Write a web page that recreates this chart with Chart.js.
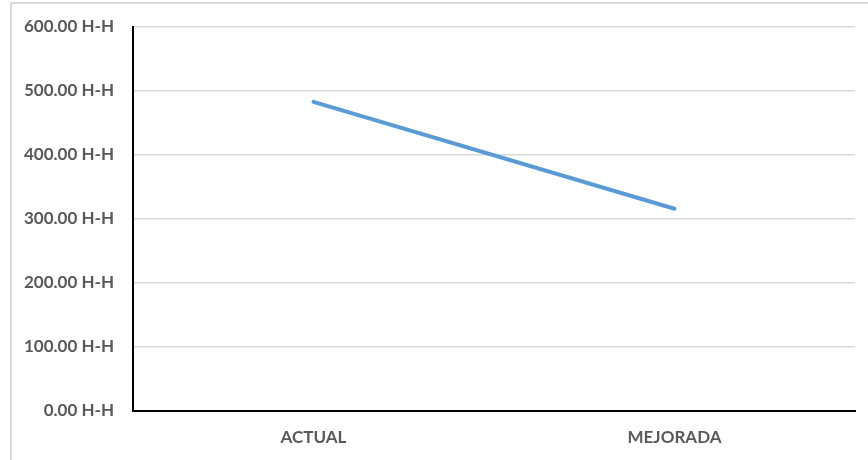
<!DOCTYPE html>
<html>
<head>
<meta charset="utf-8">
<script src="https://cdn.jsdelivr.net/npm/chart.js@4/dist/chart.umd.min.js"></script>
<style>
  html, body { margin: 0; padding: 0; background: #fff; }
  #wrap { position: relative; width: 868px; height: 460px; }
</style>
</head>
<body>
<div id="wrap"><canvas id="hh-chart" width="868" height="460"></canvas></div>
<script>
const categories = ['ACTUAL', 'MEJORADA'];
const horasHombre = [483, 316];
const yTicks = [0, 100, 200, 300, 400, 500, 600];

const labelFont = { family: 'Lato', size: 17, weight: 'bold' };

// light gray frame around the chart
const frame = {
    id: 'frame',
    beforeDraw(chart) {
        const c = chart.ctx;
        c.save();
        c.strokeStyle = '#d9d9d9';
        c.lineWidth = 2;
        c.strokeRect(11, 3, 870, 470);
        c.restore();
    }
};

const ctx = document.getElementById('hh-chart');
new Chart(ctx, {
    type: 'line',
    data: {
        labels: categories,
        datasets: [{
            data: horasHombre,
            borderColor: '#5b9bd5',
            borderWidth: 4,
            borderCapStyle: 'round',
            pointRadius: 0,
            tension: 0
        }]
    },
    options: {
        responsive: false,
        animation: false,
        layout: { padding: { top: 27, right: 13, left: 0, bottom: 0 } },
        scales: {
            x: {
                offset: true,
                grid: { display: false, drawTicks: false },
                border: { color: '#000', width: 2 },
                ticks: {
                    padding: 16,
                    color: '#595959',
                    font: labelFont
                },
                afterFit(scale) { scale.height = 49; }
            },
            y: {
                min: 0,
                max: 600,
                afterBuildTicks(scale) {
                    scale.ticks = yTicks.map(v => ({ value: v }));
                },
                grid: { color: '#d9d9d9', lineWidth: 1.5, drawTicks: false },
                border: { color: '#000', width: 2 },
                ticks: {
                    padding: 19,
                    color: '#595959',
                    font: labelFont,
                    callback: v => v.toFixed(2) + ' H-H'
                },
                afterFit(scale) {
                    scale.width = 133;
                    scale.paddingTop = 0;
                    scale.paddingBottom = 0;
                }
            }
        },
        plugins: {
            legend: { display: false },
            tooltip: { enabled: false }
        }
    },
    plugins: [frame]
});
</script>
</body>
</html>
